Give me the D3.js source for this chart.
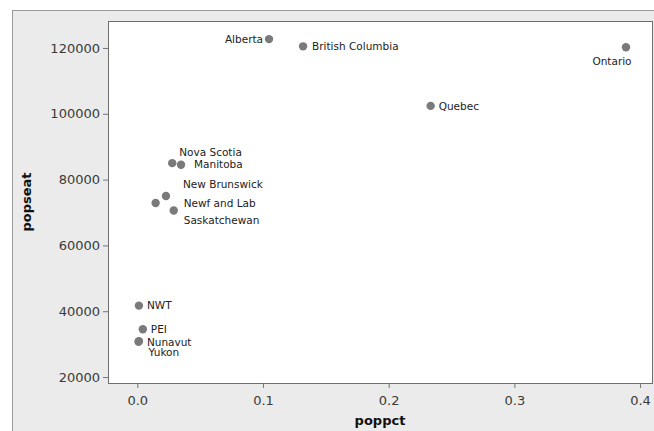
<!DOCTYPE html>
<html>
<head>
<meta charset="utf-8">
<script src="https://cdn.jsdelivr.net/npm/d3@7"></script>
<style>
  body { margin: 0; background: #fff; }
  svg { display: block; font-family: "DejaVu Sans", sans-serif; }
</style>
</head>
<body>
<div id="chart"></div>
<script>
const provinces = ['Alberta', 'British Columbia', 'Ontario', 'Quebec', 'Nova Scotia', 'Manitoba',
  'New Brunswick', 'Newf and Lab', 'Saskatchewan', 'NWT', 'PEI', 'Nunavut', 'Yukon'];
const poppct = [0.1048, 0.1319, 0.3888, 0.2334, 0.0278, 0.0348,
  0.0228, 0.0146, 0.0290, 0.0013, 0.0044, 0.0013, 0.0010];
const popseat = [122700, 120500, 120200, 102400, 85000, 84500,
  75000, 72900, 70600, 41700, 34500, 30900, 30700];
const xTicks = [0.0, 0.1, 0.2, 0.3, 0.4];
const yTicks = [20000, 40000, 60000, 80000, 100000, 120000];

// label placement relative to each point: [dx, dy, anchor]
const labelPos = {
  'Alberta': [-6, 0, 'end'],
  'British Columbia': [9, 0, 'start'],
  'Ontario': [-14, 14, 'middle'],
  'Quebec': [8, 0, 'start'],
  'Nova Scotia': [7, -11, 'start'],
  'Manitoba': [13, 0, 'start'],
  'New Brunswick': [17, -12, 'start'],
  'Newf and Lab': [28, 0, 'start'],
  'Saskatchewan': [10, 10, 'start'],
  'NWT': [8, 0, 'start'],
  'PEI': [8, 0, 'start'],
  'Nunavut': [8, 1, 'start'],
  'Yukon': [10, 11, 'start']
};

const width = 654, height = 431;
const margin = {top: 21, right: 2, bottom: 48, left: 108};

const svg = d3.select('#chart').append('svg')
  .attr('width', width)
  .attr('height', height);

// outer grey panel
svg.append('rect')
  .attr('x', 12.5).attr('y', 10.5)
  .attr('width', width).attr('height', height)
  .attr('fill', '#ebebeb')
  .attr('stroke', '#9a9a9a');

const innerW = width - margin.left - margin.right;
const innerH = height - margin.top - margin.bottom;

const x = d3.scaleLinear().domain([-0.0233, 0.4095]).range([0, innerW]);
const y = d3.scaleLinear().domain([18180, 128200]).range([innerH, 0]);

const g = svg.append('g')
  .attr('transform', 'translate(' + margin.left + ',' + margin.top + ')');

g.append('rect')
  .attr('x', 0.5).attr('y', 0.5)
  .attr('width', innerW).attr('height', innerH)
  .attr('fill', '#fff')
  .attr('stroke', '#6e6e6e');

const xAxis = g.append('g')
  .attr('transform', 'translate(0,' + innerH + ')')
  .call(d3.axisBottom(x).tickValues(xTicks).tickFormat(d3.format('.1f')).tickSize(5).tickPadding(8));
const yAxis = g.append('g')
  .call(d3.axisLeft(y).tickValues(yTicks).tickFormat(d3.format('d')).tickSize(5).tickPadding(3));

[xAxis, yAxis].forEach(function(a) {
  a.select('.domain').remove();
  a.selectAll('line').attr('stroke', '#777');
  a.selectAll('text').attr('fill', '#3a3a3a').style('font-size', '13px').style('font-family', '"DejaVu Sans", sans-serif');
});

const data = provinces.map(function(p, i) {
  return {name: p, x: poppct[i], y: popseat[i]};
});

g.selectAll('.dot')
  .data(data)
  .enter().append('circle')
  .attr('class', 'dot')
  .attr('cx', function(d) { return x(d.x); })
  .attr('cy', function(d) { return y(d.y); })
  .attr('r', 4.2)
  .attr('fill', '#7a7a7a');

g.selectAll('.lbl')
  .data(data)
  .enter().append('text')
  .attr('class', 'lbl')
  .attr('x', function(d) { return x(d.x) + labelPos[d.name][0]; })
  .attr('y', function(d) { return y(d.y) + labelPos[d.name][1]; })
  .attr('dy', '0.35em')
  .attr('text-anchor', function(d) { return labelPos[d.name][2]; })
  .attr('fill', '#222')
  .style('font-size', '10.5px')
  .text(function(d) { return d.name; });

svg.append('text')
  .attr('x', margin.left + innerW / 2)
  .attr('y', 425)
  .attr('text-anchor', 'middle')
  .attr('font-weight', 'bold')
  .style('font-size', '13px')
  .attr('fill', '#111')
  .text('poppct');

svg.append('text')
  .attr('transform', 'translate(31,' + (margin.top + innerH / 2) + ') rotate(-90)')
  .attr('text-anchor', 'middle')
  .attr('font-weight', 'bold')
  .style('font-size', '13px')
  .attr('fill', '#111')
  .text('popseat');
</script>
</body>
</html>
